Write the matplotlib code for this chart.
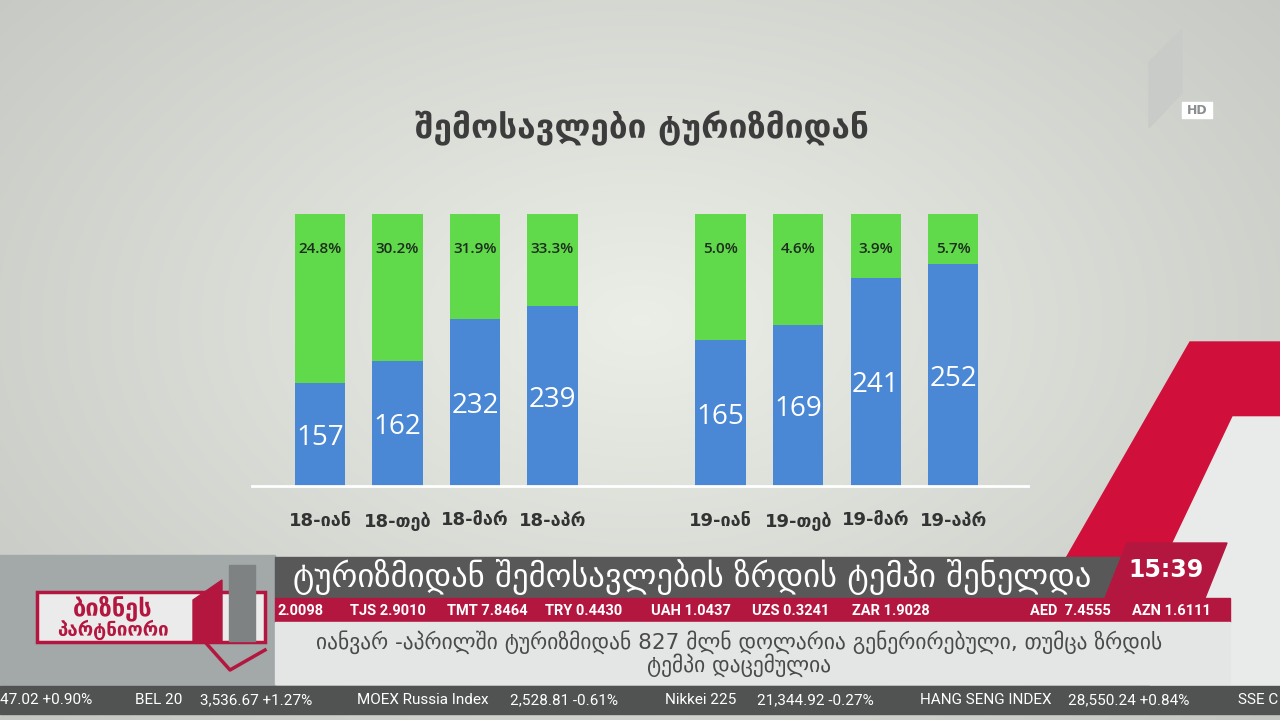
import numpy as np
import matplotlib.pyplot as plt
from matplotlib.patches import Polygon, Rectangle

# chart data
months = ['18-იან', '18-თებ', '18-მარ', '18-აპრ', '19-იან', '19-თებ', '19-მარ', '19-აპრ']
revenue = [157, 162, 232, 239, 165, 169, 241, 252]          # mln USD
growth = [24.8, 30.2, 31.9, 33.3, 5.0, 4.6, 3.9, 5.7]       # % growth
blue_share = [37.9, 46.0, 61.4, 66.2, 53.7, 59.2, 76.5, 81.6]  # share of bar height (%)

title = 'შემოსავლები ტურიზმიდან'
headline = 'ტურიზმიდან შემოსავლების ზრდის ტემპი შენელდა'
sub1 = 'იანვარ -აპრილში ტურიზმიდან 827 მლნ დოლარია გენერირებული, თუმცა ზრდის'
sub2 = 'ტემპი დაცემულია'
fx_items = ['2.0098', 'TJS 2.9010', 'TMT 7.8464', 'TRY 0.4430', 'UAH 1.0437',
            'UZS 0.3241', 'ZAR 1.9028', 'AED  7.4555', 'AZN 1.6111']
fx_x = [278, 350, 447, 545, 651, 752, 852, 1030, 1132]
idx_items = ['47.02 +0.90%', 'BEL 20', '3,536.67 +1.27%', 'MOEX Russia Index',
             '2,528.81 -0.61%', 'Nikkei 225', '21,344.92 -0.27%',
             'HANG SENG INDEX', '28,550.24 +0.84%', 'SSE C']
idx_x = [0, 135, 200, 357, 510, 665, 757, 920, 1068, 1238]

BLUE = '#4a88d5'
GREEN = '#60d94a'
CRIMSON = '#b3173f'

fig = plt.figure(figsize=(12.8, 7.2), dpi=100)

# background (studio gradient)
bg = fig.add_axes([0, 0, 1, 1])
bg.set_xlim(0, 1280)
bg.set_ylim(720, 0)
bg.axis('off')
yy, xx = np.mgrid[0:720, 0:1280]
d = np.hypot((xx - 640) / 750, (yy - 320) / 480)
v = np.clip(0.935 - 0.13 * d, 0.74, 1)
img = np.dstack([v * 0.985, v, v * 0.97])
bg.imshow(img, extent=(0, 1280, 720, 0), aspect='auto')

# channel logo
bg.add_patch(Polygon([(1149, 62), (1182, 29), (1182, 93), (1149, 128)], color='#c9cbc9'))
bg.add_patch(Rectangle((1182, 102), 30, 16, color='white'))
bg.text(1197, 110.5, 'HD', ha='center', va='center', fontsize=9, fontweight='bold', color='#8a8e8e')

bg.text(642, 128, title, ha='center', va='center', fontsize=24, fontweight='bold', color='#3c3c3c')

# bar chart
x = np.r_[np.arange(4), np.arange(4) + 5.17]
ax = fig.add_axes([252 / 1280, (720 - 486) / 720, (1028 - 252) / 1280, (486 - 214) / 720])
ax.patch.set_alpha(0)
green_part = [100 - b for b in blue_share]
ax.bar(x, blue_share, width=0.65, color=BLUE, zorder=2)
ax.bar(x, green_part, bottom=blue_share, width=0.65, color=GREEN, zorder=2)
for xi, b, r, g in zip(x, blue_share, revenue, growth):
    ax.text(xi, b / 2 - 1.3, str(r), ha='center', va='center', fontsize=20,
            color='white', family='Open Sans', zorder=3)
    ax.text(xi, 87.3, f'{g:.1f}%', ha='center', va='center', fontsize=11,
            color='#1e2e1e', family='Open Sans', fontweight='semibold', zorder=3)
ax.set_xlim(-0.877, 9.135)
ax.set_ylim(0, 100)
ax.set_yticks([])
ax.set_xticks(x, months)
ax.tick_params(axis='x', length=0, pad=19, labelsize=13, labelcolor='#333333')
for lab in ax.get_xticklabels():
    lab.set_fontweight('bold')
for s in ['top', 'left', 'right']:
    ax.spines[s].set_visible(False)
ax.spines['bottom'].set_color('white')
ax.spines['bottom'].set_linewidth(2)
ax.spines['bottom'].set_zorder(4)

# lower third overlay
ov = fig.add_axes([0, 0, 1, 1])
ov.set_xlim(0, 1280)
ov.set_ylim(720, 0)
ov.axis('off')
ov.patch.set_alpha(0)

# red decoration on the right
ov.add_patch(Polygon([(1065, 560), (1190, 342), (1280, 342), (1280, 417),
                      (1233, 417), (1165, 560)], color='#d0103a'))
ov.add_patch(Polygon([(1165, 560), (1233, 417), (1280, 417), (1280, 690), (1150, 690)],
                     color='#e9ebeb'))

ov.add_patch(Rectangle((0, 555), 275, 131, color='#a3a8a8'))
ov.add_patch(Rectangle((275, 557), 850, 41, color='#585858'))
ov.text(692, 577, headline, ha='center', va='center', fontsize=23.5, color='white')
ov.add_patch(Polygon([(1105, 598), (1127, 543), (1227, 543), (1205, 598)], color=CRIMSON))
ov.text(1166, 570, '15:39', ha='center', va='center', fontsize=17, fontweight='bold', color='white')
ov.add_patch(Rectangle((275, 598), 955, 24, color=CRIMSON))
for t, px in zip(fx_items, fx_x):
    ov.text(px, 611, t, ha='left', va='center', fontsize=10.5, fontweight='bold',
            color='white', family='Roboto', clip_on=True)
ov.add_patch(Rectangle((275, 622), 955, 62, color='#e4e5e5'))
ov.text(739, 642, sub1, ha='center', va='center', fontsize=15.5, color='#4a4a4a')
ov.text(739, 665, sub2, ha='center', va='center', fontsize=15.5, color='#4a4a4a')

# bottom index ticker
ov.add_patch(Rectangle((0, 686), 1280, 28, color='#515353'))
for t, px in zip(idx_items, idx_x):
    ov.text(px, 700, t, ha='left', va='center', fontsize=11, color='white', family='Roboto')

# programme logo
ov.add_patch(Rectangle((37, 592), 228, 50, facecolor='#ecebeb', edgecolor=CRIMSON, lw=2.5))
ov.add_patch(Polygon([(193, 600), (222, 580), (222, 642), (193, 642)], color=CRIMSON))
ov.add_patch(Rectangle((229, 565), 26, 76, color='#7e8282'))
ov.plot([205, 230, 265], [642, 670, 650], color=CRIMSON, lw=2.5)
ov.text(113, 608, 'ბიზნეს', ha='center', va='center', fontsize=17, fontweight='bold', color=CRIMSON)
ov.text(113, 630, 'პარტნიორი', ha='center', va='center', fontsize=13.5, fontweight='bold', color=CRIMSON)

fig.savefig('out.png', dpi=100)
